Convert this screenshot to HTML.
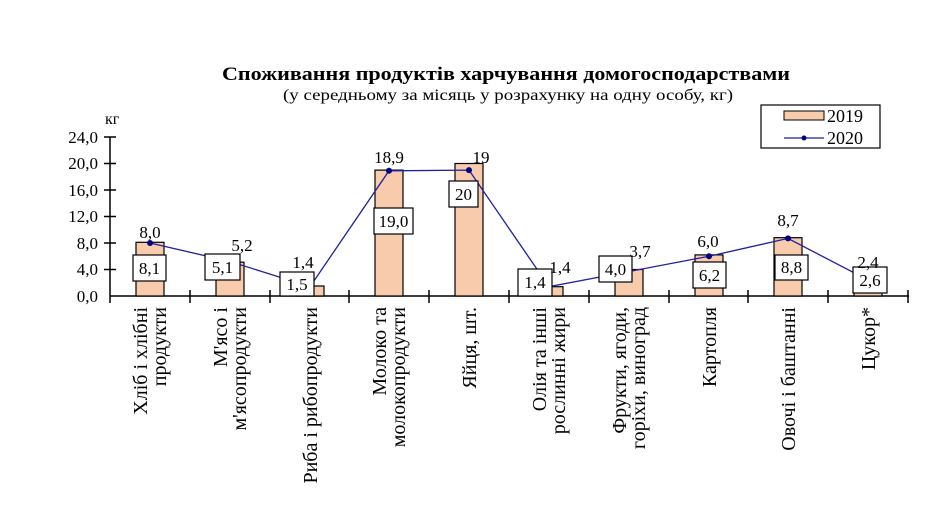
<!DOCTYPE html>
<html><head><meta charset="utf-8"><style>
body{margin:0;background:#fff;}
svg{display:block;font-family:"Liberation Serif",serif;}
</style></head><body>
<svg width="950" height="526" viewBox="0 0 950 526" xmlns="http://www.w3.org/2000/svg">
<rect width="950" height="526" fill="#fff"/>
<text x="222" y="80" font-size="19" font-weight="bold" textLength="568" lengthAdjust="spacingAndGlyphs">Споживання продуктів харчування  домогосподарствами</text>
<text x="283" y="100" font-size="16" textLength="450" lengthAdjust="spacingAndGlyphs">(у середньому за місяць у розрахунку на одну особу, кг)</text>
<text x="105" y="124" font-size="16">кг</text>
<g font-size="17" text-anchor="end">
<text x="98" y="302">0,0</text><text x="98" y="275">4,0</text><text x="98" y="249">8,0</text>
<text x="98" y="222">12,0</text><text x="98" y="196">16,0</text><text x="98" y="169">20,0</text><text x="98" y="143">24,0</text>
</g>
<g stroke="#000" stroke-width="1.5" fill="none">
<line x1="110" y1="137" x2="110" y2="296"/>
<line x1="110" y1="296" x2="909" y2="296"/>
<path d="M104 137H116M104 163.5H116M104 190H116M104 216.5H116M104 243H116M104 269.5H116"/>
<path d="M110 296V303M190 290V303M270 290V303M349 290V303M429 290V303M509 290V303M589 290V303M669 290V303M748 290V303M828 290V303M908 290V303"/>
</g>
<g fill="#f8cbad" stroke="#000" stroke-width="1.2">
<rect x="136" y="242.3" width="28" height="53.7"/>
<rect x="216" y="262.2" width="28" height="33.8"/>
<rect x="296" y="286" width="28" height="10"/>
<rect x="375" y="170.1" width="28" height="125.9"/>
<rect x="455" y="163.5" width="28" height="132.5"/>
<rect x="535" y="286.7" width="28" height="9.3"/>
<rect x="615" y="269.5" width="28" height="26.5"/>
<rect x="695" y="254.9" width="28" height="41.1"/>
<rect x="774" y="237.7" width="28" height="58.3"/>
<rect x="854" y="278.8" width="28" height="17.2"/>
</g>
<polyline fill="none" stroke="#1f1fa0" stroke-width="1.3" points="150,243 230,261.5 310,286.7 389,170.8 469,170.1 549,286.7 629,271.5 709,256.3 788,238.4 868,280.1"/>
<g fill="#000080">
<circle cx="150" cy="243" r="3"/><circle cx="230" cy="261.5" r="3"/><circle cx="310" cy="286.7" r="3"/><circle cx="389" cy="170.8" r="3"/><circle cx="469" cy="170.1" r="3"/><circle cx="549" cy="286.7" r="3"/><circle cx="629" cy="271.5" r="3"/><circle cx="709" cy="256.3" r="3"/><circle cx="788" cy="238.4" r="3"/><circle cx="868" cy="280.1" r="3"/>
</g>
<g fill="#fff" stroke="#000" stroke-width="1.2">
<rect x="133" y="255" width="33" height="26"/>
<rect x="205" y="254" width="35" height="26"/>
<rect x="280" y="272" width="34" height="24"/>
<rect x="374" y="208" width="39" height="26"/>
<rect x="449" y="181" width="29" height="26"/>
<rect x="518" y="269" width="34" height="27"/>
<rect x="599" y="256" width="33" height="26"/>
<rect x="693" y="262" width="33" height="26"/>
<rect x="775" y="255" width="33" height="25"/>
<rect x="853" y="267" width="34" height="26"/>
</g>
<g font-size="17" text-anchor="middle">
<text x="149.5" y="274">8,1</text><text x="222.5" y="273">5,1</text><text x="297" y="290">1,5</text>
<text x="393.5" y="227">19,0</text><text x="463.5" y="200">20</text><text x="535" y="288">1,4</text>
<text x="615.5" y="275">4,0</text><text x="709.5" y="281">6,2</text><text x="791.5" y="273">8,8</text><text x="870" y="286">2,6</text>
<text x="150" y="238">8,0</text><text x="242" y="251">5,2</text><text x="303" y="268">1,4</text>
<text x="389" y="163">18,9</text><text x="481" y="163">19</text><text x="560" y="273">1,4</text>
<text x="640" y="257">3,7</text><text x="708" y="247">6,0</text><text x="788" y="226">8,7</text><text x="868" y="268">2,4</text>
</g>
<rect x="761" y="105" width="119" height="43" fill="#fff" stroke="#000" stroke-width="1.2"/>
<rect x="784" y="111" width="40" height="9" fill="#f8cbad" stroke="#000"/>
<line x1="784" y1="138" x2="824" y2="138" stroke="#1f1fa0" stroke-width="1.3"/>
<circle cx="804" cy="138" r="2.5" fill="#000080"/>
<text x="827" y="122" font-size="18">2019</text>
<text x="827" y="144" font-size="18">2020</text>
<g font-size="20" text-anchor="end">
<text transform="translate(147,307) rotate(-90)">Хліб і хлібні</text>
<text transform="translate(166,307) rotate(-90)">продукти</text>
<text transform="translate(227,307) rotate(-90)">М'ясо і</text>
<text transform="translate(246,307) rotate(-90)">м'ясопродукти</text>
<text transform="translate(317,307) rotate(-90)">Риба і рибопродукти</text>
<text transform="translate(386,307) rotate(-90)">Молоко та</text>
<text transform="translate(405,307) rotate(-90)">молокопродукти</text>
<text transform="translate(476,307) rotate(-90)">Яйця, шт.</text>
<text transform="translate(546,307) rotate(-90)">Олія та інші</text>
<text transform="translate(565,307) rotate(-90)">рослинні жири</text>
<text transform="translate(626,307) rotate(-90)">Фрукти, ягоди,</text>
<text transform="translate(645,307) rotate(-90)">горіхи, виноград</text>
<text transform="translate(716,307) rotate(-90)">Картопля</text>
<text transform="translate(795,307) rotate(-90)">Овочі і баштанні</text>
<text transform="translate(875,307) rotate(-90)">Цукор*</text>
</g>
</svg>
</body></html>
